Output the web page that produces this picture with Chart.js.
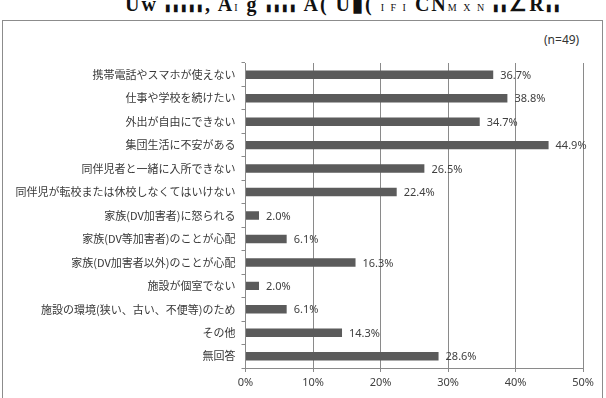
<!DOCTYPE html>
<html>
<head>
<meta charset="utf-8">
<script src="https://cdn.jsdelivr.net/npm/chart.js@4.4.1/dist/chart.umd.min.js"></script>
<style>
  html, body { margin: 0; padding: 0; background: #fff; }
  #wrap { position: relative; width: 606px; height: 398px; overflow: hidden; }
  #frame { position: absolute; left: 2px; top: 20px; width: 601px; height: 380px; border: 1.5px solid #8c8c8c; box-sizing: border-box; }
  #title { position: absolute; left: 125px; top: -8px; font: bold 20px "Liberation Serif", serif; color: #111; white-space: nowrap; letter-spacing: 2px; }
  #title small { font-size: 10px; font-weight: normal; }
  #n { position: absolute; left: 544px; top: 31px; font: 12px "Noto Sans", sans-serif; color: #333; }
  canvas { position: absolute; left: 0; top: 0; }
</style>
</head>
<body>
<div id="wrap">
  <div id="title">Uw <small>▮▮▮▮▮</small>, A<small>I</small> g <small>▮▮▮▮</small> A( U▮( <small>I F I</small> CN<small>M X N</small> <small>▮▮</small>∠R<small>▮▮</small></div>
  <div id="frame"></div>
  <div id="n">(n=49)</div>
  <canvas id="chart" width="606" height="398"></canvas>
</div>
<script>
// 施設に入所しなかった理由（複数回答）
const categories = [
  '携帯電話やスマホが使えない',
  '仕事や学校を続けたい',
  '外出が自由にできない',
  '集団生活に不安がある',
  '同伴児者と一緒に入所できない',
  '同伴児が転校または休校しなくてはいけない',
  '家族(DV加害者)に怒られる',
  '家族(DV等加害者)のことが心配',
  '家族(DV加害者以外)のことが心配',
  '施設が個室でない',
  '施設の環境(狭い、古い、不便等)のため',
  'その他',
  '無回答'
];
const percents = [36.7, 38.8, 34.7, 44.9, 26.5, 22.4, 2.0, 6.1, 16.3, 2.0, 6.1, 14.3, 28.6];
const xTicks = [0, 10, 20, 30, 40, 50];

// 棒の右に値ラベル
const valueLabels = {
  id: 'valueLabels',
  afterDatasetsDraw(chart){
    const ctx = chart.ctx;
    const meta = chart.getDatasetMeta(0);
    const xs = chart.scales.x;
    ctx.save();
    ctx.font = '11px "Noto Sans", sans-serif';
    ctx.fillStyle = '#404040';
    ctx.textBaseline = 'middle';
    ctx.textAlign = 'left';
    meta.data.forEach((bar, i) => {
      const x = xs.getPixelForValue(percents[i]) + 7;
      ctx.fillText(percents[i].toFixed(1) + '%', x, bar.y + 1);
    });
    ctx.restore();
  }
};

new Chart(document.getElementById('chart'), {
  type: 'bar',
  data: {
    labels: categories,
    datasets: [{
      data: percents,
      backgroundColor: '#5b5b5b',
      borderWidth: 0,
      barPercentage: 0.36,
      categoryPercentage: 1
    }]
  },
  options: {
    indexAxis: 'y',
    responsive: false,
    animation: false,
    layout: { padding: { top: 63, right: 23, left: 0, bottom: 0 } },
    plugins: { legend: { display: false }, tooltip: { enabled: false } },
    scales: {
      x: {
        min: 0, max: 50,
        afterBuildTicks: s => { s.ticks = xTicks.map(v => ({ value: v })); },
        afterFit: s => { s.height = 30; },
        grid: { color: '#8a8a8a', lineWidth: 1, tickLength: 4, drawTicks: true },
        border: { color: '#8a8a8a', width: 1 },
        ticks: {
          callback: v => v + '%',
          color: '#404040',
          font: { family: '"Noto Sans", sans-serif', size: 11 },
          padding: 4
        }
      },
      y: {
        afterFit: s => { s.width = 245.5; },
        grid: { drawOnChartArea: false, color: '#8a8a8a', tickLength: 4, offset: true },
        border: { color: '#8a8a8a', width: 1 },
        ticks: {
          color: '#383838',
          font: { family: '"Noto Sans CJK JP", sans-serif', size: 11 },
          padding: 6,
          autoSkip: false
        }
      }
    }
  },
  plugins: [valueLabels]
});
</script>
</body>
</html>
